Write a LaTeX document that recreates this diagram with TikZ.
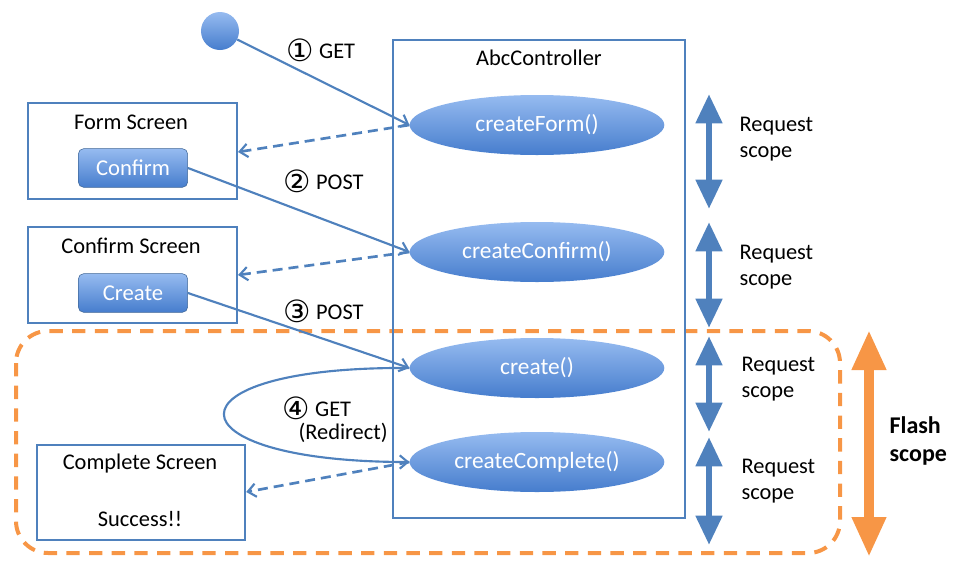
\documentclass[tikz,border=0pt]{standalone}
\usepackage{fontspec}
\setmainfont{Carlito}
\newfontfamily\dvfont{DejaVu Sans}
\usetikzlibrary{arrows.meta,shapes.geometric}
\definecolor{bline}{RGB}{79,129,189}
\definecolor{btop}{RGB}{150,187,240}
\definecolor{bbot}{RGB}{70,125,205}
\definecolor{orng}{RGB}{247,150,70}
\newcommand{\cnum}[1]{\raisebox{-0.12em}{\dvfont\fontsize{23}{20}\selectfont #1}}
\begin{document}
\begin{tikzpicture}[x=0.75pt,y=-0.75pt,
  txt/.style={font=\fontsize{16.8}{20}\selectfont, text=black, inner sep=1pt},
  screen/.style={draw=bline, line width=1.8pt, fill=white},
  method/.style={ellipse, draw=none, top color=btop, bottom color=bbot, minimum width=191pt, minimum height=45pt, inner sep=0pt, text=white, font=\fontsize{17.5}{19}\selectfont},
  btn/.style={rounded corners=4pt, draw=bline!80!black, line width=0.4pt, top color=btop, bottom color=bbot, minimum width=82pt, minimum height=29pt, inner sep=0pt, text=white, font=\fontsize{17}{19}\selectfont},
  conn/.style={draw=bline, line width=1.6pt, -{Straight Barb[length=6pt,width=10pt,line width=1.6pt]}},
  back/.style={conn, line width=2pt, dash pattern=on 7.5pt off 4.5pt},
  req/.style={draw=bline, line width=5pt, {Triangle[width=19pt,length=22pt]}-{Triangle[width=19pt,length=22pt]}},
]
\path[use as bounding box] (0,0) rectangle (954,561);

% flash scope region
\draw[orng, line width=3pt, dash pattern=on 10pt off 7pt, rounded corners=24pt] (16,331) rectangle (840,553);

% controller
\node[draw=bline, line width=1.6pt, minimum width=219pt, minimum height=358.5pt, inner sep=0pt] (ctrl) at (539,279) {};
\node[txt] (ctrlT) at (539,58) {AbcController};

\node[method] (m1) at (537,125) {createForm()};
\node[method] (m2) at (537,252) {createConfirm()};
\node[method] (m3) at (537,368) {create()};
\node[method] (m4) at (537,462) {createComplete()};

% start
\node[circle, top color=btop, bottom color=bbot, minimum size=28.5pt, inner sep=0pt] (start) at (220,31) {};

% screens
\node[screen, minimum width=156.5pt, minimum height=72pt, inner sep=0pt] (s1) at (132.5,151) {};
\node[txt] (s1t) at (131,122) {Form Screen};
\node[btn] (b1) at (133,168) {Confirm};

\node[screen, minimum width=156.5pt, minimum height=72pt, inner sep=0pt] (s2) at (132.5,275) {};
\node[txt] (s2t) at (131,246) {Confirm Screen};
\node[btn] (b2) at (133,293) {Create};

\node[screen, minimum width=156pt, minimum height=71pt, inner sep=0pt] (s3) at (141,492.5) {};
\node[txt] (s3t) at (140,464) {Complete Screen};
\node[txt] (s3s) at (140,519) {Success!!};

% connectors
\draw[conn] (start) -- (m1.west);
\node[txt, anchor=west] (l1) at (285,50) {\cnum{①} GET};
\draw[back] (m1.west) -- (s1.east |- 0,152);
\draw[conn] (b1.east) -- (m2.west);
\node[txt, anchor=west] (l2) at (282,181) {\cnum{②} POST};
\draw[back] (m2.west) -- (s2.east |- 0,275);
\draw[conn] (b2.east) -- (m3.west);
\node[txt, anchor=west] (l3) at (282,311) {\cnum{③} POST};
\draw[conn] (m3.west) .. controls (160,366) and (165,462) .. (m4.west);
\node[txt, anchor=west] (l4) at (281,408) {\cnum{④} GET};
\node[txt, anchor=west] (l4b) at (297,433) {(Redirect)};
\draw[back] (m4.west) -- (s3.east |- 0,492);

% request scope arrows
\coordinate (r1a) at (709,94);  \coordinate (r1b) at (709,209);
\coordinate (r2a) at (709,222); \coordinate (r2b) at (709,328);
\coordinate (r3a) at (709,336); \coordinate (r3b) at (709,432);
\coordinate (r4a) at (709,437); \coordinate (r4b) at (709,545);
\draw[req] (r1a) -- (r1b);
\draw[req] (r2a) -- (r2b);
\draw[req] (r3a) -- (r3b);
\draw[req] (r4a) -- (r4b);
\node[txt, anchor=west, align=left] (q1) at (738,139) {Request\\scope};
\node[txt, anchor=west, align=left] (q2) at (738,267) {Request\\scope};
\node[txt, anchor=west, align=left] (q3) at (740,379) {Request\\scope};
\node[txt, anchor=west, align=left] (q4) at (740,481) {Request\\scope};

% flash scope arrow
\coordinate (fa) at (869,330); \coordinate (fb) at (869,557);
\draw[orng, line width=7.5pt, {Triangle[width=24pt,length=30pt]}-{Triangle[width=24pt,length=30pt]}] (fa) -- (fb);
\node[txt, font=\bfseries\fontsize{18}{21}\selectfont, align=left, anchor=west] (fl) at (888,441) {Flash\\scope};
\end{tikzpicture}
\end{document}
